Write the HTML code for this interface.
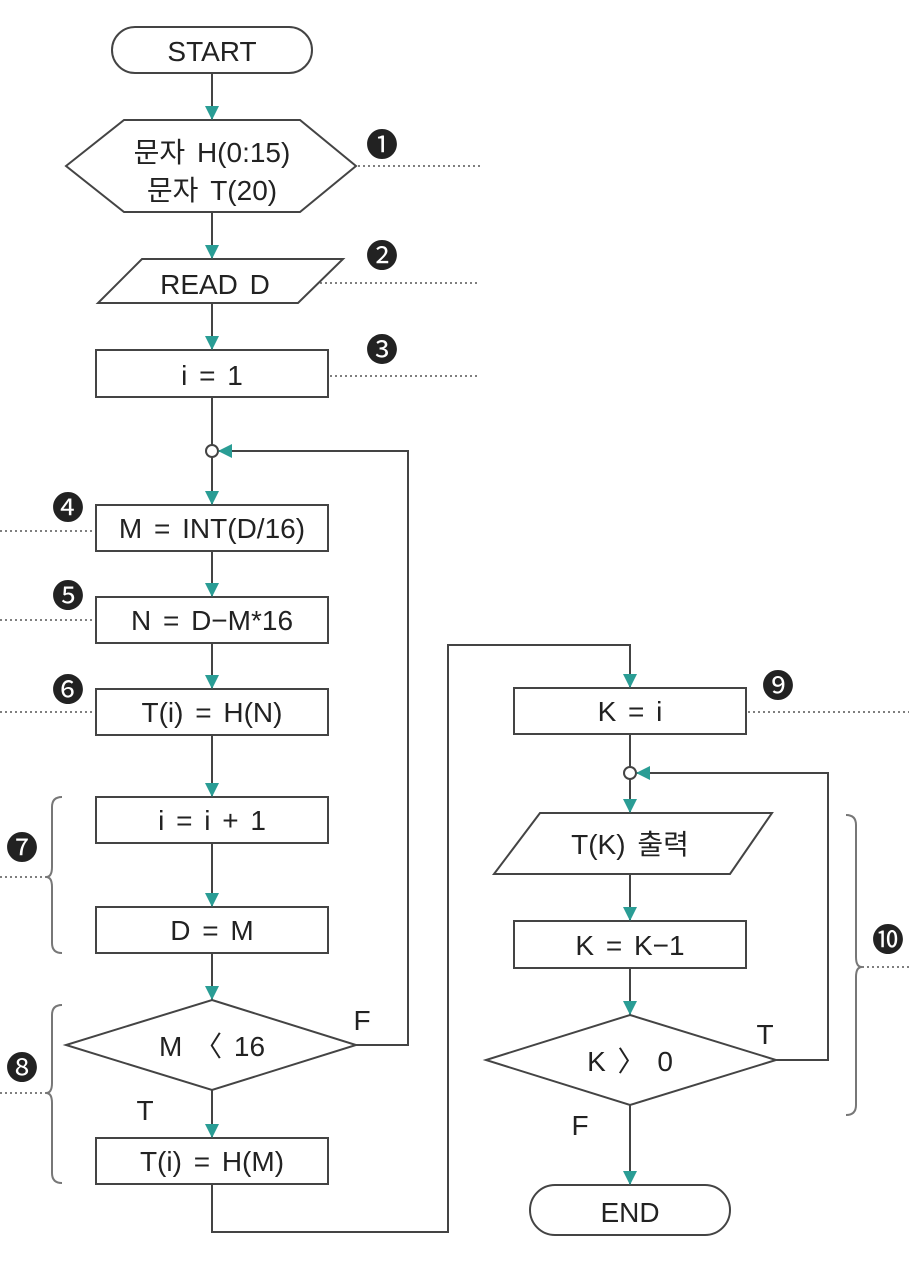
<!DOCTYPE html>
<html><head><meta charset="utf-8"><style>
html,body{margin:0;padding:0;background:#fff}
svg{display:block}
text{font-family:"Liberation Sans","Noto Sans CJK KR",sans-serif;fill:#222}
</style></head><body>
<svg width="909" height="1262" viewBox="0 0 909 1262" xmlns="http://www.w3.org/2000/svg">
<g fill="none" stroke="#444" stroke-width="2">
<rect x="112" y="27" width="200" height="46" rx="23"/>
<polygon points="66,166 124,120 300,120 356,166 300,212 124,212"/>
<polygon points="142,259 343,259 298,303 98,303"/>
<rect x="96" y="350" width="232" height="47"/>
<circle cx="212" cy="451" r="6"/>
<rect x="96" y="505" width="232" height="46"/>
<rect x="96" y="597" width="232" height="46"/>
<rect x="96" y="689" width="232" height="46"/>
<rect x="96" y="797" width="232" height="46"/>
<rect x="96" y="907" width="232" height="46"/>
<polygon points="212,1000 356,1045 212,1090 66,1045"/>
<rect x="96" y="1138" width="232" height="46"/>
<rect x="514" y="688" width="232" height="46"/>
<circle cx="630" cy="773" r="6"/>
<polygon points="540,813 772,813 730,874 494,874"/>
<rect x="514" y="921" width="232" height="47"/>
<polygon points="630,1015 776,1060 630,1105 486,1060"/>
<rect x="530" y="1185" width="200" height="50" rx="25"/>
<path d="M212 73V120M212 212V259M212 303V350M212 397V445M212 457V505M212 551V597M212 643V689M212 735V797M212 843V907M212 953V1000M212 1090V1138"/>
<path d="M356 1045H408V451H218"/>
<path d="M212 1184V1232H448V645H630V688"/>
<path d="M630 734V767M630 779V813M630 874V921M630 968V1015M630 1105V1185"/>
<path d="M776 1060H828V773H636"/>
<path d="M62 797Q52 797 52 807V867Q52 877 46 877Q52 877 52 887V943Q52 953 62 953" stroke="#777"/>
<path d="M62 1005Q52 1005 52 1015V1083Q52 1093 46 1093Q52 1093 52 1103V1173Q52 1183 62 1183" stroke="#777"/>
<path d="M846 815Q856 815 856 825V957Q856 967 862 967Q856 967 856 977V1105Q856 1115 846 1115" stroke="#777"/>
</g>
<g stroke="#555" stroke-width="1.6" stroke-dasharray="2,3" fill="none">
<path d="M358 166H480M320 283H480M330 376H480M0 531H94M0 620H94M0 712H94M0 877H46M0 1093H46M748 712H909M862 967H909"/>
</g>
<g fill="#2a9d95">
<polygon points="205,106 219,106 212,120"/>
<polygon points="205,245 219,245 212,259"/>
<polygon points="205,336 219,336 212,350"/>
<polygon points="205,491 219,491 212,505"/>
<polygon points="205,583 219,583 212,597"/>
<polygon points="205,675 219,675 212,689"/>
<polygon points="205,783 219,783 212,797"/>
<polygon points="205,893 219,893 212,907"/>
<polygon points="205,986 219,986 212,1000"/>
<polygon points="205,1124 219,1124 212,1138"/>
<polygon points="232,444 232,458 218,451"/>
<polygon points="623,674 637,674 630,688"/>
<polygon points="623,799 637,799 630,813"/>
<polygon points="623,907 637,907 630,921"/>
<polygon points="623,1001 637,1001 630,1015"/>
<polygon points="623,1171 637,1171 630,1185"/>
<polygon points="650,766 650,780 636,773"/>
</g>
<g font-size="28" text-anchor="middle" word-spacing="4">
<text x="212" y="61">START</text>
<text x="212" y="162">문자 H(0:15)</text>
<text x="212" y="200">문자 T(20)</text>
<text x="215" y="294">READ D</text>
<text x="212" y="385">i = 1</text>
<text x="212" y="538">M = INT(D/16)</text>
<text x="212" y="630">N = D−M*16</text>
<text x="212" y="722">T(i) = H(N)</text>
<text x="212" y="830">i = i + 1</text>
<text x="212" y="940">D = M</text>
<text x="212" y="1056">M 〈 16</text>
<text x="212" y="1171">T(i) = H(M)</text>
<text x="630" y="721">K = i</text>
<text x="630" y="854">T(K) 출력</text>
<text x="630" y="955">K = K−1</text>
<text x="630" y="1071">K 〉 0</text>
<text x="630" y="1222">END</text>
<text x="362" y="1030">F</text>
<text x="145" y="1120">T</text>
<text x="765" y="1044">T</text>
<text x="580" y="1135">F</text>
</g>
<g font-size="32" text-anchor="middle">
<text x="382" y="156">❶</text>
<text x="382" y="267">❷</text>
<text x="382" y="361">❸</text>
<text x="68" y="519">❹</text>
<text x="68" y="607">❺</text>
<text x="68" y="701">❻</text>
<text x="22" y="859">❼</text>
<text x="22" y="1079">❽</text>
<text x="778" y="697">❾</text>
<text x="888" y="951">❿</text>
</g>
</svg>
</body></html>
